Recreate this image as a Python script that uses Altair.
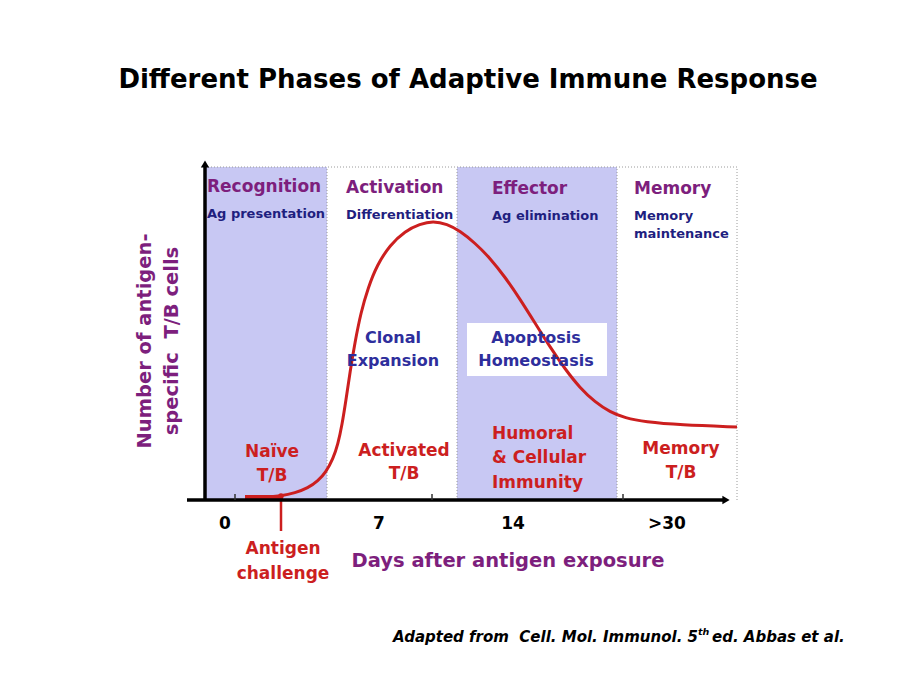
import altair as alt
import pandas as pd

# ---- schematic coordinates: x = position along the time axis, y = relative number of cells
X_MAX = 532
Y_MAX = 333

phase_start = [0, 252]
phase_end = [122, 412]
boundaries = [122, 252, 412, 532]
tick_pos = [30, 227, 418]

day_labels = ["0", "7", "14", ">30"]
day_label_x = [20, 174, 308, 462]

curve_x = [40, 60, 76, 90, 103, 113, 121, 128, 133, 137, 141, 145, 150, 156, 163, 172, 185, 200,
           215, 228, 242, 255, 270, 285, 300, 315, 330, 345, 360, 375, 390, 405, 420, 440, 475, 532]
curve_y = [3, 3, 4, 7, 12, 19, 28, 41, 56, 75, 100, 128, 158, 188, 212, 235, 255, 269,
           276, 279, 276, 269, 257, 242, 223, 201, 177, 153, 131, 112, 98, 88, 82, 78, 75, 73]

antigen_x = 76

phase_titles = ["Recognition", "Activation", "Effector", "Memory"]
phase_title_x = [2, 141, 287, 429]
phase_title_y = [313, 312, 311, 311]

phase_sub = ["Ag presentation", "Differentiation", "Ag elimination", "Memory", "maintenance"]
phase_sub_x = [2, 141, 287, 429, 429]
phase_sub_y = [286, 285, 284, 284, 266]

process_text = ["Clonal", "Expansion", "Apoptosis", "Homeostasis"]
process_x = [188, 188, 331, 331]
process_y = [162, 139, 162, 139]

cell_text = ["Naïve", "T/B", "Activated", "T/B", "Memory", "T/B", "Antigen", "challenge"]
cell_x = [67, 67, 199, 199, 476, 476, 78, 78]
cell_y = [48, 24, 49, 26, 51, 27, -49, -74]

humoral_text = ["Humoral", "& Cellular", "Immunity"]
humoral_x = [287, 287, 287]
humoral_y = [66, 42, 17]

ytitle_lines = ["Number of antigen-", "specific\u00a0\u00a0T/B cells"]
ytitle_x = [-60, -33]
ytitle_y = [159, 159]

footer_parts = ["Adapted from\u00a0\u00a0Cell. Mol. Immunol. 5", "th", "ed. Abbas et al."]
footer_x = [188, 493, 507]
footer_y = [-137, -132, -137]
footer_size = [15, 9.5, 15]

FONT = "DejaVu Sans"
PURPLE = "#7d1f7d"
NAVY = "#1f1f7f"
BLUE = "#2e2e9c"
RED = "#cc1f1f"
LAV = "#c8c8f3"

xs = alt.Scale(domain=[0, X_MAX], nice=False, zero=False)
ys = alt.Scale(domain=[0, Y_MAX], nice=False, zero=False)


def X(f="x"):
    return alt.X(f"{f}:Q", scale=xs, axis=None)


def Y(f="y"):
    return alt.Y(f"{f}:Q", scale=ys, axis=None)


def texts(t, x, y, color, size, align="center", angle=0, style="normal"):
    df = pd.DataFrame({"t": t, "x": x, "y": y})
    kw = dict(font=FONT, fontWeight="bold", fontSize=size, color=color,
              align=align, baseline="middle", fontStyle=style)
    if angle:
        kw["angle"] = angle
    return alt.Chart(df).mark_text(**kw).encode(x=X(), y=Y(), text="t:N")


rects = alt.Chart(pd.DataFrame({"x": phase_start, "x2": phase_end, "y": [0, 0], "y2": [Y_MAX, Y_MAX]})).mark_rect(
    color=LAV).encode(x=X(), x2="x2:Q", y=Y(), y2="y2:Q")

box = alt.Chart(pd.DataFrame({"x": [262], "x2": [402], "y": [124], "y2": [177]})).mark_rect(
    color="white").encode(x=X(), x2="x2:Q", y=Y(), y2="y2:Q")

vdots = alt.Chart(pd.DataFrame({"x": boundaries, "y": [0] * 4, "y2": [Y_MAX] * 4})).mark_rule(
    color="#9a9a9a", strokeDash=[1, 2], strokeWidth=1).encode(x=X(), y=Y(), y2="y2:Q")
hdots = alt.Chart(pd.DataFrame({"x": [0], "x2": [X_MAX], "y": [Y_MAX]})).mark_rule(
    color="#9a9a9a", strokeDash=[1, 2], strokeWidth=1).encode(x=X(), x2="x2:Q", y=Y())

yaxis = alt.Chart(pd.DataFrame({"x": [0], "y": [0], "y2": [335]})).mark_rule(
    color="black", strokeWidth=3.5).encode(x=X(), y=Y(), y2="y2:Q")
xaxis = alt.Chart(pd.DataFrame({"x": [-18], "x2": [519], "y": [0]})).mark_rule(
    color="black", strokeWidth=3.5).encode(x=X(), x2="x2:Q", y=Y())
arrow_up = alt.Chart(pd.DataFrame({"x": [0], "y": [336]})).mark_point(
    shape="triangle-up", filled=True, color="black", size=70, opacity=1).encode(x=X(), y=Y())
arrow_right = alt.Chart(pd.DataFrame({"x": [521], "y": [0]})).mark_point(
    shape="triangle-right", filled=True, color="black", size=70, opacity=1).encode(x=X(), y=Y())

ticks = alt.Chart(pd.DataFrame({"x": tick_pos, "y": [0] * 3, "y2": [6] * 3})).mark_rule(
    color="#333333", strokeWidth=1.5).encode(x=X(), y=Y(), y2="y2:Q")

curve = alt.Chart(pd.DataFrame({"x": curve_x, "y": curve_y, "o": list(range(len(curve_x)))})).mark_line(
    color=RED, strokeWidth=3, interpolate="basis").encode(x=X(), y=Y(), order="o:Q")

baseline = alt.Chart(pd.DataFrame({"x": [40], "x2": [78], "y": [3]})).mark_rule(
    color=RED, strokeWidth=4).encode(x=X(), x2="x2:Q", y=Y())
marker = alt.Chart(pd.DataFrame({"x": [antigen_x], "y": [3], "y2": [-31]})).mark_rule(
    color=RED, strokeWidth=2.5).encode(x=X(), y=Y(), y2="y2:Q")
dot = alt.Chart(pd.DataFrame({"x": [antigen_x], "y": [4]})).mark_point(
    shape="circle", filled=True, color=RED, size=30, opacity=1).encode(x=X(), y=Y())

footer = alt.Chart(pd.DataFrame({"t": footer_parts, "x": footer_x, "y": footer_y, "s": footer_size})).mark_text(
    font=FONT, fontWeight="bold", fontStyle="italic", color="black", align="left", baseline="middle"
).encode(x=X(), y=Y(), text="t:N", size=alt.Size("s:Q", scale=None))

layers = [
    rects, box, vdots, hdots, curve, baseline, marker, dot,
    yaxis, xaxis, arrow_up, arrow_right, ticks,
    texts(phase_titles, phase_title_x, phase_title_y, PURPLE, 17, align="left"),
    texts(phase_sub, phase_sub_x, phase_sub_y, NAVY, 13, align="left"),
    texts(process_text, process_x, process_y, BLUE, 16),
    texts(cell_text, cell_x, cell_y, RED, 17),
    texts(humoral_text, humoral_x, humoral_y, RED, 17, align="left"),
    texts(day_labels, day_label_x, [-24] * 4, "black", 17),
    texts(["Days after antigen exposure"], [303], [-61], PURPLE, 19.5),
    texts(ytitle_lines, ytitle_x, ytitle_y, PURPLE, 19.5, angle=270),
    texts(["Different Phases of Adaptive Immune Response"], [263], [420], "black", 26),
    footer,
]

chart = alt.layer(*layers).properties(
    width=X_MAX, height=Y_MAX,
    padding={"left": 205, "top": 167, "right": 183, "bottom": 191},
    autosize="none", background="white",
).configure_view(stroke=None)

chart.save("out.html", embed_options={"renderer": "svg", "actions": False})
